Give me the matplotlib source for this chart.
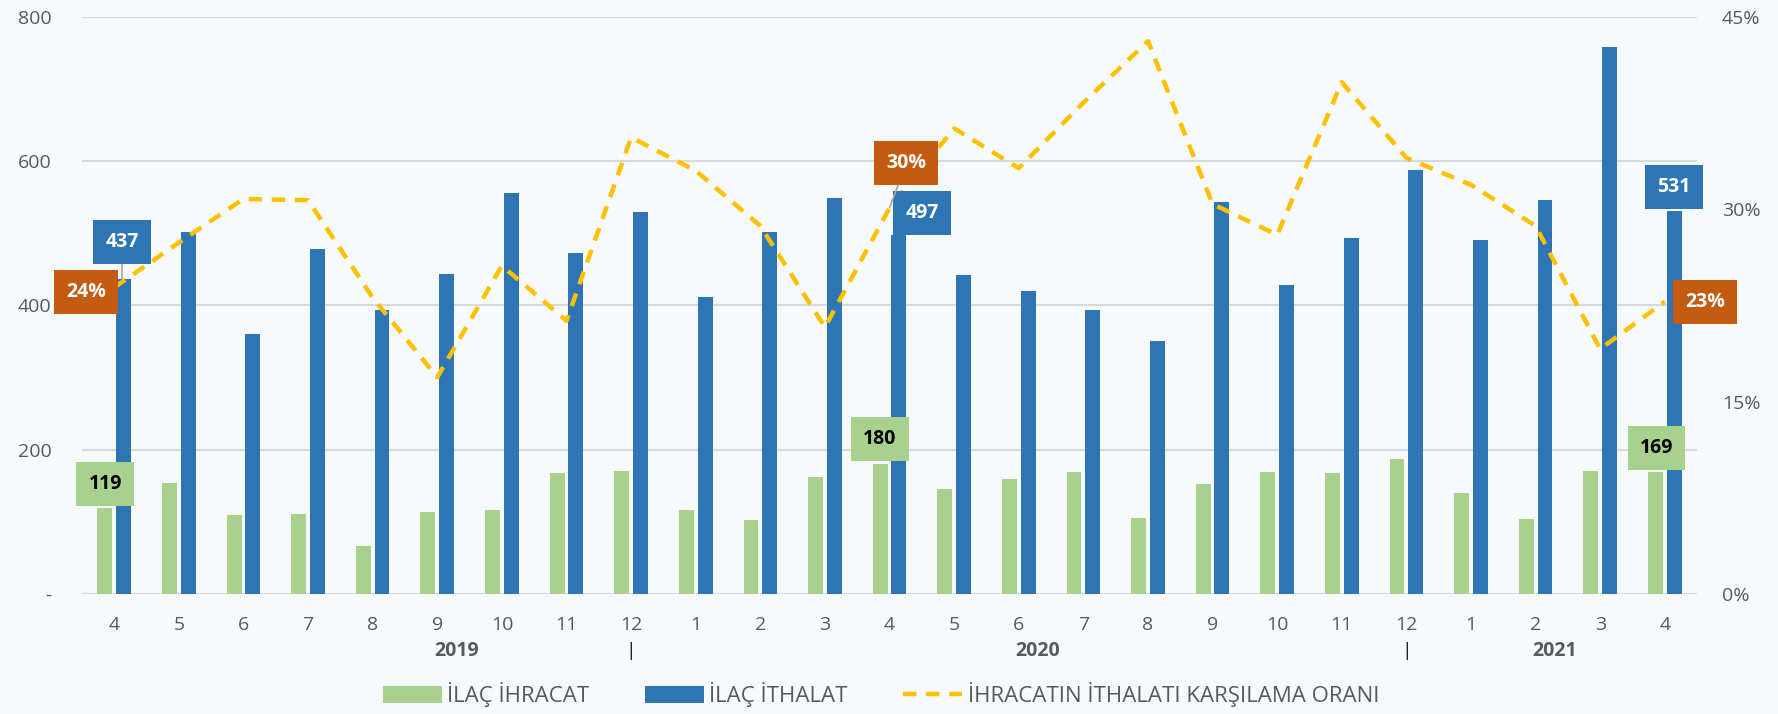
import numpy as np
import matplotlib
matplotlib.use("Agg")
import matplotlib.pyplot as plt
from matplotlib.transforms import blended_transform_factory

plt.rcParams['font.family'] = ['Open Sans', 'DejaVu Sans']

months = ['4', '5', '6', '7', '8', '9', '10', '11', '12', '1', '2', '3', '4',
          '5', '6', '7', '8', '9', '10', '11', '12', '1', '2', '3', '4']
years = ['2019', '2020', '2021']
year_pos = [5.3, 14.3, 22.3]
sep_pos = [8, 20]

ihracat = [119, 154, 110, 111, 66, 114, 116, 168, 171, 116, 102, 162, 180,
           146, 160, 169, 105, 152, 169, 168, 187, 140, 104, 171, 169]
ithalat = [437, 502, 360, 478, 394, 444, 556, 473, 530, 411, 502, 549, 497,
           442, 420, 394, 350, 543, 428, 493, 588, 490, 546, 758, 531]
oran = [23.9, 27.4, 30.8, 30.7, 23.1, 16.9, 25.6, 21.3, 35.6, 33.0, 28.7, 20.8, 30.1,
        36.3, 33.2, 38.3, 43.1, 30.4, 28.0, 39.9, 34.0, 31.9, 28.7, 19.1, 22.8]

green = '#A9D18E'
blue = '#2E75B6'
gold = '#FFC000'
rust = '#C55A11'
bg = '#F6FAFD'
txt = '#595959'

fig = plt.figure(figsize=(17.78, 7.14), dpi=100, facecolor=bg)
ax = fig.add_axes([0.0461, 0.168, 0.9084, 0.8085])
ax.set_facecolor(bg)
x = np.arange(len(months))

ax.bar(x - 0.145, ihracat, width=0.23, color=green, zorder=2, label='İLAÇ İHRACAT')
ax.bar(x + 0.145, ithalat, width=0.23, color=blue, zorder=2, label='İLAÇ İTHALAT')

ax.set_xlim(-0.5, len(months) - 0.5)
ax.set_ylim(0, 800)
ax.set_yticks([0, 200, 400, 600, 800])
ax.set_yticklabels(['-', '200', '400', '600', '800'])
ax.set_xticks(x)
ax.set_xticklabels(months)
ax.tick_params(axis='y', length=0, pad=22, labelsize=14, labelcolor=txt)
ax.tick_params(axis='x', length=0, pad=16, labelsize=14, labelcolor=txt)
ax.grid(axis='y', color='#D9D9D9', linewidth=1.5, zorder=0)
for s in ax.spines.values():
    s.set_visible(False)

ax2 = ax.twinx()
ax2.plot(x, np.array(oran) / 100, color=gold, linewidth=3.2, dashes=(3, 2.2),
         zorder=3, label='İHRACATIN İTHALATI KARŞILAMA ORANI')
ax2.set_ylim(0, 0.45)
ax2.set_yticks([0, 0.15, 0.30, 0.45])
ax2.set_yticklabels(['0%', '15%', '30%', '45%'])
ax2.tick_params(axis='y', length=0, pad=18, labelsize=14, labelcolor=txt)
for s in ax2.spines.values():
    s.set_visible(False)

# year row under month labels
tr = blended_transform_factory(ax.transData, ax.transAxes)
for yl, xp in zip(years, year_pos):
    ax.text(xp, -0.099, yl, transform=tr, ha='center', va='center',
            fontsize=14, color=txt, fontweight='bold')
for xp in sep_pos:
    ax.text(xp, -0.099, '|', transform=tr, ha='center', va='center',
            fontsize=14, color='#222222')

# data label boxes (positions in left-axis units)
def box(text, pos, fc, tc, xy=None):
    kw = {}
    if xy is not None:
        kw['arrowprops'] = dict(arrowstyle='-', color='#A6A6A6', lw=1.2,
                                shrinkA=0, shrinkB=0)
    else:
        xy = pos
    ax2.annotate(text, xy=xy, xycoords=ax.transData, xytext=pos,
                 textcoords=ax.transData, ha='center', va='center',
                 fontsize=14, fontweight='bold', color=tc, zorder=5,
                 bbox=dict(boxstyle='square,pad=0.62', fc=fc, ec='none'),
                 annotation_clip=False, **kw)

box(f'{ithalat[0]}', (0.12, 488), blue, 'white', xy=(0.12, ithalat[0]))
box(f'{oran[0]:.0f}%', (-0.44, 419), rust, 'white')
box(f'{ihracat[0]}', (-0.14, 153), green, 'black')
box(f'{ithalat[12]}', (12.5, 528), blue, 'white')
box(f'{oran[12]:.0f}%', (12.26, 597), rust, 'white', xy=(12, oran[12] / 45 * 800))
box(f'{ihracat[12]}', (11.85, 215), green, 'black')
box(f'{ithalat[24]}', (24.14, 564), blue, 'white')
box(f'{oran[24]:.0f}%', (24.62, 405), rust, 'white')
box(f'{ihracat[24]}', (23.87, 202), green, 'black')

h1, l1 = ax.get_legend_handles_labels()
h2, l2 = ax2.get_legend_handles_labels()
fig.legend(h1 + h2, l1 + l2, loc='center', bbox_to_anchor=(0.4955, 0.027),
           ncol=3, frameon=False, labelcolor=txt,
           handlelength=2.65, handleheight=0.85, handletextpad=0.25, columnspacing=2.5,
           prop={'size': 16})

fig.savefig('out.png', dpi=100, facecolor=bg)
